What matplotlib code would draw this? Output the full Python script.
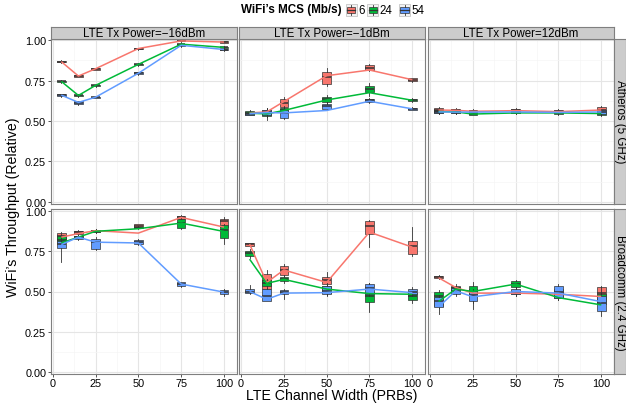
import matplotlib
matplotlib.use("Agg")
import matplotlib.pyplot as plt
from matplotlib.patches import Rectangle
from matplotlib.lines import Line2D

plt.rcParams['font.family'] = ['Liberation Sans', 'DejaVu Sans']

# ---- data ------------------------------------------------------------
widths_prb = [5, 15, 25, 50, 75, 100]
mcs_labels = ["6", "24", "54"]
mcs_colors = ["#F8766D", "#00BA38", "#619CFF"]
powers = ["LTE Tx Power=\u221216dBm", "LTE Tx Power=\u22121dBm", "LTE Tx Power=12dBm"]
chips = ["Atheros (5 GHz)", "Broadcomm (2.4 GHz)"]

# each array: one row per MCS (6, 24, 54), one value per channel width
# Atheros, -16 dBm
a16_q1 = [[0.862, 0.775, 0.818, 0.945, 0.992, 0.983],
          [0.741, 0.654, 0.716, 0.846, 0.971, 0.950],
          [0.652, 0.604, 0.643, 0.790, 0.963, 0.937]]
a16_med = [[0.867, 0.778, 0.822, 0.948, 0.998, 0.988],
           [0.745, 0.658, 0.720, 0.850, 0.975, 0.955],
           [0.660, 0.612, 0.647, 0.795, 0.968, 0.942]]
a16_q3 = [[0.872, 0.782, 0.826, 0.951, 1.004, 0.992],
          [0.749, 0.662, 0.724, 0.854, 0.979, 0.960],
          [0.666, 0.622, 0.651, 0.800, 0.973, 0.947]]
a16_lo = [[0.858, 0.772, 0.815, 0.942, 0.988, 0.980],
          [0.738, 0.650, 0.713, 0.843, 0.968, 0.946],
          [0.648, 0.598, 0.640, 0.787, 0.960, 0.933]]
a16_hi = [[0.876, 0.785, 0.829, 0.954, 1.008, 0.995],
          [0.752, 0.665, 0.727, 0.857, 0.982, 0.964],
          [0.670, 0.626, 0.654, 0.803, 0.976, 0.950]]
a16_mean = [[0.867, 0.778, 0.823, 0.948, 0.995, 0.988],
            [0.745, 0.658, 0.720, 0.850, 0.975, 0.955],
            [0.660, 0.615, 0.647, 0.795, 0.968, 0.942]]

# Atheros, -1 dBm
a1_q1 = [[0.545, 0.535, 0.585, 0.726, 0.815, 0.747],
         [0.540, 0.529, 0.550, 0.616, 0.678, 0.622],
         [0.540, 0.535, 0.519, 0.577, 0.618, 0.569]]
a1_med = [[0.550, 0.556, 0.612, 0.774, 0.830, 0.755],
          [0.550, 0.544, 0.568, 0.633, 0.700, 0.628],
          [0.545, 0.556, 0.550, 0.590, 0.630, 0.575]]
a1_q3 = [[0.555, 0.570, 0.633, 0.803, 0.844, 0.763],
         [0.560, 0.560, 0.581, 0.647, 0.716, 0.639],
         [0.550, 0.570, 0.570, 0.606, 0.639, 0.581]]
a1_lo = [[0.542, 0.525, 0.577, 0.716, 0.810, 0.743],
         [0.535, 0.505, 0.545, 0.606, 0.654, 0.615],
         [0.535, 0.525, 0.515, 0.570, 0.612, 0.565]]
a1_hi = [[0.558, 0.580, 0.647, 0.830, 0.850, 0.767],
         [0.565, 0.575, 0.590, 0.660, 0.737, 0.645],
         [0.555, 0.580, 0.580, 0.615, 0.645, 0.585]]
a1_mean = [[0.550, 0.556, 0.620, 0.780, 0.815, 0.755],
           [0.548, 0.544, 0.565, 0.630, 0.675, 0.628],
           [0.545, 0.552, 0.550, 0.565, 0.622, 0.575]]

# Atheros, 12 dBm
a12_q1 = [[0.560, 0.560, 0.555, 0.558, 0.553, 0.555],
          [0.552, 0.552, 0.540, 0.547, 0.546, 0.540],
          [0.550, 0.550, 0.550, 0.551, 0.548, 0.545]]
a12_med = [[0.570, 0.568, 0.560, 0.565, 0.560, 0.570],
           [0.560, 0.558, 0.545, 0.552, 0.552, 0.548],
           [0.556, 0.555, 0.555, 0.556, 0.553, 0.556]]
a12_q3 = [[0.578, 0.575, 0.565, 0.572, 0.567, 0.585],
          [0.568, 0.565, 0.550, 0.558, 0.558, 0.560],
          [0.562, 0.561, 0.560, 0.561, 0.558, 0.568]]
a12_lo = [[0.550, 0.555, 0.548, 0.553, 0.548, 0.545],
          [0.545, 0.546, 0.535, 0.542, 0.540, 0.532],
          [0.545, 0.545, 0.545, 0.546, 0.543, 0.538]]
a12_hi = [[0.585, 0.580, 0.572, 0.578, 0.572, 0.595],
          [0.575, 0.570, 0.556, 0.563, 0.563, 0.568],
          [0.568, 0.566, 0.565, 0.566, 0.563, 0.575]]
a12_mean = [[0.568, 0.566, 0.560, 0.564, 0.558, 0.568],
            [0.558, 0.556, 0.543, 0.550, 0.550, 0.546],
            [0.556, 0.555, 0.555, 0.556, 0.553, 0.556]]

# Broadcomm, -16 dBm
b16_q1 = [[0.815, 0.857, 0.865, 0.898, 0.948, 0.898],
          [0.805, 0.830, 0.865, 0.890, 0.894, 0.832],
          [0.770, 0.826, 0.764, 0.795, 0.535, 0.483]]
b16_med = [[0.842, 0.867, 0.873, 0.907, 0.958, 0.934],
           [0.820, 0.838, 0.872, 0.895, 0.923, 0.880],
           [0.795, 0.836, 0.805, 0.805, 0.546, 0.496]]
b16_q3 = [[0.861, 0.877, 0.882, 0.915, 0.965, 0.950],
          [0.846, 0.845, 0.878, 0.900, 0.950, 0.909],
          [0.815, 0.846, 0.826, 0.820, 0.556, 0.508]]
b16_lo = [[0.805, 0.850, 0.860, 0.894, 0.943, 0.887],
          [0.795, 0.825, 0.860, 0.885, 0.887, 0.795],
          [0.685, 0.820, 0.758, 0.790, 0.530, 0.475]]
b16_hi = [[0.867, 0.882, 0.888, 0.920, 0.970, 0.963],
          [0.857, 0.850, 0.885, 0.905, 0.963, 0.920],
          [0.846, 0.850, 0.840, 0.825, 0.560, 0.515]]
b16_mean = [[0.836, 0.858, 0.876, 0.861, 0.958, 0.898],
            [0.800, 0.836, 0.872, 0.888, 0.923, 0.871],
            [0.790, 0.836, 0.805, 0.800, 0.546, 0.496]]

# Broadcomm, -1 dBm
b1_q1 = [[0.784, 0.515, 0.604, 0.546, 0.857, 0.732],
         [0.718, 0.535, 0.562, 0.488, 0.438, 0.446],
         [0.488, 0.442, 0.483, 0.483, 0.483, 0.483]]
b1_med = [[0.793, 0.566, 0.633, 0.570, 0.902, 0.784],
          [0.737, 0.555, 0.575, 0.519, 0.473, 0.473],
          [0.500, 0.470, 0.496, 0.505, 0.520, 0.500]]
b1_q3 = [[0.799, 0.608, 0.660, 0.591, 0.936, 0.815],
         [0.753, 0.570, 0.587, 0.535, 0.494, 0.488],
         [0.515, 0.515, 0.510, 0.535, 0.546, 0.515]]
b1_lo = [[0.780, 0.510, 0.597, 0.535, 0.774, 0.722],
         [0.710, 0.520, 0.555, 0.475, 0.375, 0.430],
         [0.483, 0.440, 0.455, 0.478, 0.470, 0.470]]
b1_hi = [[0.800, 0.633, 0.670, 0.618, 0.944, 0.898],
         [0.760, 0.580, 0.595, 0.550, 0.550, 0.500],
         [0.540, 0.520, 0.515, 0.545, 0.555, 0.525]]
b1_mean = [[0.793, 0.556, 0.633, 0.556, 0.867, 0.774],
           [0.700, 0.550, 0.575, 0.515, 0.487, 0.483],
           [0.500, 0.452, 0.490, 0.493, 0.515, 0.493]]

# Broadcomm, 12 dBm
b12_q1 = [[0.583, 0.504, 0.483, 0.483, 0.475, 0.421],
          [0.411, 0.494, 0.473, 0.525, 0.458, 0.421],
          [0.404, 0.483, 0.442, 0.483, 0.458, 0.380]]
b12_med = [[0.591, 0.521, 0.495, 0.495, 0.490, 0.490],
           [0.473, 0.510, 0.500, 0.546, 0.494, 0.450],
           [0.442, 0.504, 0.480, 0.500, 0.494, 0.432]]
b12_q3 = [[0.597, 0.535, 0.515, 0.504, 0.515, 0.525],
          [0.500, 0.525, 0.535, 0.562, 0.510, 0.483],
          [0.467, 0.520, 0.504, 0.515, 0.535, 0.473]]
b12_lo = [[0.578, 0.495, 0.470, 0.475, 0.465, 0.410],
          [0.400, 0.485, 0.390, 0.515, 0.450, 0.410],
          [0.360, 0.470, 0.430, 0.475, 0.450, 0.350]]
b12_hi = [[0.603, 0.545, 0.530, 0.510, 0.525, 0.535],
          [0.510, 0.535, 0.556, 0.570, 0.525, 0.490],
          [0.480, 0.535, 0.515, 0.525, 0.545, 0.525]]
b12_mean = [[0.585, 0.525, 0.490, 0.490, 0.483, 0.469],
            [0.438, 0.515, 0.500, 0.546, 0.462, 0.417],
            [0.404, 0.504, 0.467, 0.500, 0.490, 0.437]]

panels = [
    [(a16_q1, a16_med, a16_q3, a16_lo, a16_hi, a16_mean),
     (a1_q1, a1_med, a1_q3, a1_lo, a1_hi, a1_mean),
     (a12_q1, a12_med, a12_q3, a12_lo, a12_hi, a12_mean)],
    [(b16_q1, b16_med, b16_q3, b16_lo, b16_hi, b16_mean),
     (b1_q1, b1_med, b1_q3, b1_lo, b1_hi, b1_mean),
     (b12_q1, b12_med, b12_q3, b12_lo, b12_hi, b12_mean)],
]

# ---- layout (pixel based) --------------------------------------------
W, H = 626, 410
fig = plt.figure(figsize=(W / 100, H / 100), dpi=100)

col_left = [51, 239.3, 428.3]
col_w = 185.7
row_top = [39.5, 210]
row_h = 165
strip_h = 11.8


def px_rect(x0, y0, w, h):
    return [x0 / W, 1 - (y0 + h) / H, w / W, h / H]


def strip(rect, text, rot=0):
    sa = fig.add_axes(px_rect(*rect))
    sa.set_facecolor("#CCCCCC")
    sa.set_xticks([])
    sa.set_yticks([])
    for s in sa.spines.values():
        s.set_color("#7F7F7F")
        s.set_linewidth(0.8)
    sa.text(0.5, 0.5, text, ha="center", va="center", rotation=rot,
            fontsize=8.3, transform=sa.transAxes)


for r in range(2):
    for c in range(3):
        ax = fig.add_axes(px_rect(col_left[c], row_top[r], col_w, row_h))
        ax.set_xlim(-1.0, 107.4)
        ax.set_ylim(-0.01, 1.01)
        ax.set_xticks([0, 25, 50, 75, 100])
        ax.set_xticks([12.5, 37.5, 62.5, 87.5], minor=True)
        ax.set_yticks([0, 0.25, 0.5, 0.75, 1.0])
        ax.set_yticks([0.125, 0.375, 0.625, 0.875], minor=True)
        ax.grid(which="major", color="#E5E5E5", lw=0.8)
        ax.grid(which="minor", color="#F5F5F5", lw=0.5)
        ax.set_axisbelow(True)
        for s in ax.spines.values():
            s.set_color("#7F7F7F")
            s.set_linewidth(0.8)
        ax.tick_params(which="minor", length=0)
        ax.tick_params(which="major", length=2.5, width=0.7, color="#555555",
                       labelsize=7.8, pad=1.0)
        if c == 0:
            ax.set_yticklabels(["0.00", "0.25", "0.50", "0.75", "1.00"])
        else:
            ax.tick_params(axis="y", length=0, labelleft=False)
        if r == 1:
            ax.set_xticklabels(["0", "25", "50", "75", "100"])
            ax.tick_params(axis="x", pad=0.3)
        else:
            ax.tick_params(axis="x", length=0, labelbottom=False)

        q1, med, q3, lo, hi, mean = panels[r][c]
        for k, col in enumerate(mcs_colors):
            stats = []
            for i in range(len(widths_prb)):
                stats.append({"med": med[k][i], "q1": q1[k][i], "q3": q3[k][i],
                              "whislo": lo[k][i], "whishi": hi[k][i]})
            ax.bxp(stats, positions=widths_prb, widths=5, patch_artist=True,
                   showfliers=False, showcaps=False, manage_ticks=False,
                   boxprops=dict(facecolor=col, edgecolor="#333333", lw=0.5),
                   medianprops=dict(color="#333333", lw=1.1),
                   whiskerprops=dict(color="#333333", lw=0.6),
                   zorder=2 + k)
        for k, col in enumerate(mcs_colors):
            ax.plot(widths_prb, mean[k], color=col, lw=1.1, zorder=6,
                    solid_capstyle="butt")

        if r == 0:
            strip((col_left[c], row_top[0] - strip_h, col_w, strip_h), powers[c])
    strip((col_left[2] + col_w + 0.3, row_top[r], 11.7, row_h), chips[r], rot=-90)

# axis titles
fig.text(331.7 / W, 1 - 396.5 / H, "LTE Channel Width (PRBs)", ha="center",
         va="center", fontsize=10.2)
fig.text(13 / W, 1 - 207 / H, "WiFi\u2019s Throughput (Relative)", ha="center",
         va="center", rotation=90, fontsize=10.2)

# legend on top
fig.text(241 / W, 1 - 10 / H, "WiFi\u2019s MCS (Mb/s)", ha="left", va="center",
         fontsize=8.4, fontweight="bold")
key_x = [345.7, 367.2, 399.0]
for kx, col, lab in zip(key_x, mcs_colors, mcs_labels):
    fig.patches.append(Rectangle((kx / W, 1 - 16.5 / H), 11 / W, 12 / H,
                                 transform=fig.transFigure, facecolor="#F2F2F2",
                                 edgecolor="#BBBBBB", lw=0.5))
    fig.patches.append(Rectangle(((kx + 1.4) / W, 1 - 13.5 / H), 8.2 / W, 6 / H,
                                 transform=fig.transFigure, facecolor=col,
                                 edgecolor="#333333", lw=0.5))
    fig.lines.append(Line2D([(kx + 1.4) / W, (kx + 9.6) / W],
                            [1 - 10.5 / H, 1 - 10.5 / H],
                            transform=fig.transFigure, color="#333333", lw=0.9))
    fig.lines.append(Line2D([(kx + 5.5) / W] * 2, [1 - 5.5 / H, 1 - 7.5 / H],
                            transform=fig.transFigure, color="#333333", lw=0.6))
    fig.lines.append(Line2D([(kx + 5.5) / W] * 2, [1 - 13.5 / H, 1 - 15.5 / H],
                            transform=fig.transFigure, color="#333333", lw=0.6))
    fig.text((kx + 12.5) / W, 1 - 10.5 / H, lab, ha="left", va="center",
             fontsize=8.3)

fig.savefig("out.png", dpi=100)
